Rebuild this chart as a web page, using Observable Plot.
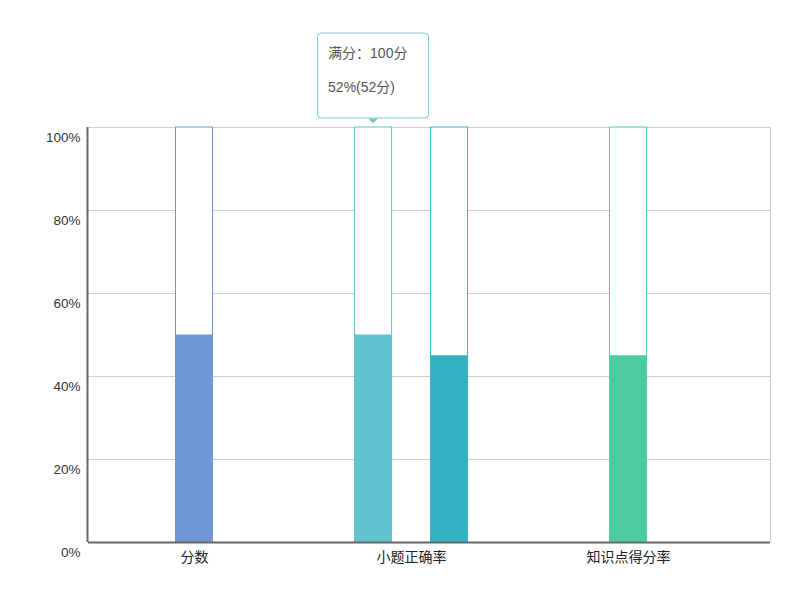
<!DOCTYPE html>
<html><head><meta charset="utf-8">
<script src="https://cdn.jsdelivr.net/npm/d3@7"></script>
<script src="https://cdn.jsdelivr.net/npm/@observablehq/plot@0.6"></script>
<style>
html,body{margin:0;padding:0;background:#fff;}
#chart{width:800px;height:601px;}
</style>
</head><body><div id="chart"></div>
<script>
// ---- data ----
const categories = ["分数", "小题正确率", "知识点得分率"];
const barCategory = ["分数", "小题正确率", "小题正确率", "知识点得分率"];
const barValue = [50, 50, 45, 45];
const fullMark = [100, 100, 100, 100];
const yTicks = [0, 20, 40, 60, 80, 100];
const tooltipLines = ["满分：100分", "52%(52分)"];
const tooltipBarIndex = 1;

// ---- styles / layout ----
const barColors = ["#6f97d5", "#5fc3ce", "#34b1c2", "#4ccba0"];
const xLo = -0.4885, xHi = 2.654;   // category-unit extent of plot area
const slotGap = 0.35;               // distance between bars inside one category
const halfW = 0.0853;               // half bar width in category units

const bars = barCategory.map((c, i) => {
  const n = barCategory.filter(d => d === c).length;
  const k = barCategory.slice(0, i).filter(d => d === c).length;
  return {
    category: c,
    value: barValue[i],
    full: fullMark[i],
    color: barColors[i],
    x: categories.indexOf(c) + (k - (n - 1) / 2) * slotGap
  };
});

const tipBar = bars[tooltipBarIndex];

const tooltip = (index, scales) => {
  const cx = scales.x(tipBar.x);
  const top = scales.y(tipBar.full);
  const g = d3.create("svg:g").attr("transform", `translate(${cx},${top})`);
  g.append("rect")
    .attr("x", -55.5).attr("y", -94).attr("width", 111).attr("height", 85)
    .attr("rx", 4).attr("fill", "#fff").attr("stroke", "#7ccbd3").attr("stroke-width", 1);
  g.append("path")
    .attr("d", "M-5,-8.5L5,-8.5L0,-4Z").attr("fill", "#6cc3cd");
  tooltipLines.forEach((t, i) => {
    g.append("text")
      .attr("x", -45).attr("y", -69 + i * 34)
      .attr("text-anchor", "start")
      .attr("fill", "#555").attr("font-size", 14)
      .text(t);
  });
  return g.node();
};

const chart = Plot.plot({
  width: 800,
  height: 601,
  marginLeft: 88,
  marginRight: 30,
  marginTop: 127,
  marginBottom: 59,
  style: {fontFamily: "'Liberation Sans', 'Noto Sans CJK SC', sans-serif", background: "#fff"},
  x: {domain: [xLo, xHi], axis: null},
  y: {domain: [0, 100], axis: null},
  color: {type: "identity"},
  marks: [
    Plot.ruleY(yTicks, {stroke: "#cfcfcf"}),
    Plot.ruleX([xHi], {stroke: "#cfcfcf"}),
    Plot.rectY(bars, {x1: d => d.x - halfW, x2: d => d.x + halfW, y1: 0, y2: d => d.full, fill: "#fff", stroke: d => d.color, strokeWidth: 1}),
    Plot.rectY(bars, {x1: d => d.x - halfW, x2: d => d.x + halfW, y1: 0, y2: d => d.value, fill: d => d.color}),
    Plot.ruleX([xLo], {stroke: "#666", strokeWidth: 2, dx: -1}),
    Plot.ruleY([0], {stroke: "#666", strokeWidth: 2}),
    Plot.text(yTicks, {x: xLo, y: d => d, text: d => d + "%", textAnchor: "end", dx: -8, dy: 10, fontSize: 13.5, fill: "#333"}),
    Plot.text(categories, {x: (d, i) => i, y: 0, text: d => d, dy: 15, fontSize: 14, fill: "#222"}),
    tooltip
  ]
});
document.getElementById("chart").appendChild(chart);
</script>
</body></html>
